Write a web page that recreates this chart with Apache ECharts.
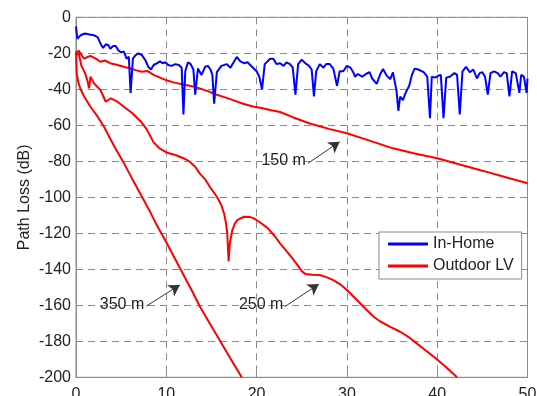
<!DOCTYPE html>
<html>
<head>
<meta charset="utf-8">
<script src="https://cdn.jsdelivr.net/npm/echarts@6/dist/echarts.min.js"></script>
<style>
html,body{margin:0;padding:0;background:#fff;}
#chart{width:537px;height:396px;}
</style>
</head>
<body>
<div id="chart"></div>
<script>
// ---- data ----
const xTicks = [0, 10, 20, 30, 40, 50];
const yTicks = [0, -20, -40, -60, -80, -100, -120, -140, -160, -180, -200];

const inHome = [
[0,-5],[0.15,-12],[0.5,-10],[1.0,-9],[1.5,-9.5],[2.0,-10],[2.4,-11],[2.7,-14.5],[3.0,-17],[3.3,-15],[3.6,-15.5],[3.8,-17.5],[4.1,-16],[4.4,-16],[4.7,-18.5],[5.0,-19.5],[5.3,-19],[5.6,-23],[5.85,-22],[6.05,-42],[6.3,-23],[6.6,-21],[6.9,-20],[7.3,-21],[7.7,-24],[8.0,-27.5],[8.3,-29],[8.6,-26.5],[9.0,-25.5],[9.3,-24.5],[9.6,-25.5],[9.9,-25],[10.2,-26.5],[10.6,-27],[11.0,-26],[11.4,-26.5],[11.7,-28],[11.9,-54],[12.1,-30],[12.4,-25],[12.7,-26],[13.0,-29],[13.2,-43],[13.5,-28.5],[13.9,-32],[14.3,-27.5],[14.6,-27],[14.9,-29],[15.1,-32],[15.3,-48],[15.6,-30.5],[16.1,-27],[16.7,-26],[17.1,-28],[17.8,-22],[18.2,-24.5],[18.6,-25.5],[19.0,-25],[19.6,-28],[20.0,-30],[20.3,-33],[20.6,-40],[20.9,-26],[21.5,-23],[21.85,-23],[22.2,-26],[22.6,-25.5],[23.0,-27],[23.3,-25],[23.7,-26],[24.0,-28],[24.3,-43],[24.6,-26],[25.0,-23.5],[25.4,-25.5],[25.8,-27],[26.1,-29],[26.35,-44],[26.6,-30],[27.0,-26],[27.4,-28],[27.7,-26],[28.1,-26],[28.5,-28.5],[28.9,-38],[29.2,-30],[29.6,-30],[30.0,-27],[30.4,-28],[30.7,-30.5],[30.9,-33],[31.2,-31.5],[31.7,-33],[32.1,-31.5],[32.5,-30.5],[32.8,-34],[33.3,-37],[33.7,-31.5],[34.0,-28.7],[34.4,-32.4],[34.8,-34.3],[35.1,-30.6],[35.5,-41],[35.7,-52],[35.9,-44],[36.2,-46],[36.5,-42],[36.9,-38],[37.2,-32],[37.5,-28.5],[37.9,-29],[38.1,-29],[38.5,-30.5],[38.9,-33],[39.2,-56],[39.4,-33],[39.8,-33.5],[40.1,-32.5],[40.4,-32],[40.7,-56],[41.0,-33.5],[41.4,-33],[41.9,-31],[42.2,-32],[42.5,-54],[42.8,-30],[43.2,-27.5],[43.6,-30.5],[44.0,-29],[44.4,-34],[44.7,-31],[45.0,-30.5],[45.3,-33],[45.6,-43],[45.9,-31],[46.3,-30],[46.7,-31],[47.0,-33],[47.4,-30.5],[47.7,-31],[48.0,-44],[48.3,-30],[48.7,-31],[49.1,-42],[49.3,-32],[49.6,-33],[49.9,-42],[50,-34]
];

const outdoor150 = [
[0,-20],[0.3,-18.5],[0.6,-21],[0.9,-23],[1.3,-22],[1.6,-21.5],[2.2,-23],[2.7,-24.7],[3.2,-24],[3.8,-25.5],[4.6,-26.5],[5.3,-27.5],[6.0,-28.4],[6.7,-29.5],[7.3,-30.2],[7.9,-29.8],[8.6,-32],[9.3,-33.5],[9.9,-34.8],[10.9,-36.3],[12.0,-37.5],[13.0,-38.5],[13.7,-39.5],[14.6,-41],[15.6,-43],[16.5,-44.5],[17.4,-46],[18.5,-48],[19.6,-49.6],[20.4,-50.3],[21.5,-51.5],[22.6,-52.6],[24.0,-55.5],[25.9,-59],[28.0,-62],[30.0,-64.4],[32.5,-68.5],[35.1,-72.8],[37.5,-75.7],[40.0,-78.3],[42.5,-81.8],[45.0,-85.2],[47.5,-88.7],[50,-92.2]
];

const outdoor250 = [
[0,-21],[0.3,-20],[0.6,-27],[1.0,-31],[1.25,-35],[1.45,-39.5],[1.6,-33],[2.0,-36.7],[2.7,-40.4],[3.3,-46.9],[3.85,-45],[4.6,-46.9],[5.3,-49.7],[6.25,-53.3],[7.2,-58],[7.8,-62],[8.6,-69.5],[9.3,-73],[10.1,-75.3],[11.0,-76.5],[11.9,-78.3],[12.6,-80.2],[13.2,-83],[13.7,-86.7],[14.3,-90],[14.8,-94],[15.3,-97.5],[15.7,-100.5],[16.1,-104.5],[16.4,-109],[16.6,-114],[16.75,-120],[16.9,-135.5],[17.05,-125],[17.3,-118.5],[17.6,-114.5],[17.9,-112.5],[18.6,-110.8],[19.3,-111],[19.7,-111.7],[20.4,-114],[21.2,-117],[22.0,-121.5],[22.6,-125.6],[23.5,-131],[24.4,-136.7],[25.0,-141],[25.4,-142.6],[26.2,-143],[27.0,-143.2],[27.8,-144.5],[28.5,-146],[29.3,-148.5],[30.0,-151.5],[31.0,-156.5],[32.2,-162.6],[33.0,-166.5],[33.7,-169],[34.8,-172],[35.9,-174.7],[36.8,-177.5],[37.7,-181],[38.7,-185],[39.6,-188.5],[40.9,-194],[42.2,-200]
];

const outdoor350 = [
[0,-19],[0.08,-31],[0.25,-36],[0.5,-40],[0.9,-44],[1.6,-49.7],[2.4,-55.2],[3.1,-60.8],[3.85,-68],[4.5,-74],[5.3,-81],[6.2,-89.5],[7.2,-98.7],[8.1,-107],[9.0,-116],[10.0,-125],[10.85,-133],[12.0,-144],[12.9,-152.5],[13.7,-160.5],[14.8,-170],[15.9,-179.3],[17.1,-189.5],[18.35,-200]
];

const seriesNames = ['In-Home', 'Outdoor LV'];
const annoText = ['150 m', '350 m', '250 m'];
const annoTextPos = [[23.0,-79.8],[5.1,-159.8],[20.5,-159.8]];
const arrowFrom = [[25.7,-81.1],[7.8,-160.4],[23.1,-160.8]];
const arrowTo = [[29.2,-69.1],[11.5,-148.7],[26.9,-148.2]];

// ---- chart ----
const FONT = 'Liberation Sans, Arial, Helvetica, sans-serif';
const chart = echarts.init(document.getElementById('chart'), null, {renderer: 'canvas'});

const gridLine = {show: true, lineStyle: {color: '#8a8a8a', type: [7, 5], width: 1}};
const redStyle = {color: '#ff0000', width: 2};

const option = {
  animation: false,
  backgroundColor: '#ffffff',
  textStyle: {fontFamily: FONT},
  grid: {left: 76, right: 9.5, top: 17.3, bottom: 18.7, containLabel: false, outerBoundsMode: 'none',
         show: true, borderColor: '#8a8a8a', borderWidth: 1, backgroundColor: 'transparent'},
  legend: {
    data: seriesNames,
    left: 379, top: 232,
    orient: 'vertical',
    itemWidth: 40, itemHeight: 3, itemGap: 6,
    padding: [4, 8, 5, 9],
    backgroundColor: '#ffffff',
    borderColor: '#8a8a8a', borderWidth: 1, borderRadius: 0,
    icon: 'rect',
    textStyle: {fontSize: 16, color: '#222', fontFamily: FONT}
  },
  xAxis: {
    type: 'value', min: xTicks[0], max: xTicks[xTicks.length - 1], interval: 10,
    axisLine: {show: true, onZero: false, lineStyle: {color: '#8a8a8a'}},
    axisTick: {show: true, inside: true, length: 5, lineStyle: {color: '#8a8a8a'}},
    axisLabel: {fontSize: 16, color: '#222', margin: 9, fontFamily: FONT},
    splitLine: gridLine
  },
  yAxis: {
    type: 'value', min: yTicks[yTicks.length - 1], max: yTicks[0], interval: 20,
    name: 'Path Loss (dB)', nameLocation: 'middle', nameGap: 43, nameMoveOverlap: false,
    nameTextStyle: {fontSize: 16, color: '#222', fontFamily: FONT},
    axisLine: {show: true, onZero: false, lineStyle: {color: '#8a8a8a'}},
    axisTick: {show: true, inside: true, length: 5, lineStyle: {color: '#8a8a8a'}},
    axisLabel: {fontSize: 16, color: '#222', margin: 5, fontFamily: FONT},
    splitLine: gridLine
  },
  series: [
    {name: seriesNames[0], type: 'line', data: inHome, showSymbol: false, symbol: 'none',
     lineStyle: {color: '#0000ff', width: 2}, itemStyle: {color: '#0000ff'}, z: 3},
    {name: seriesNames[1], type: 'line', data: outdoor150, showSymbol: false, symbol: 'none',
     lineStyle: redStyle, itemStyle: {color: '#ff0000'}, z: 2,
     markLine: {
       silent: true, symbol: ['none', 'arrow'], symbolSize: [10, 11],
       lineStyle: {color: '#333', width: 1, type: 'solid'},
       itemStyle: {color: '#000'},
       label: {show: false},
       data: arrowFrom.map((p, i) => [{coord: p}, {coord: arrowTo[i]}])
     },
     markPoint: {
       silent: true, symbol: 'circle', symbolSize: 0,
       label: {show: true, position: 'inside', formatter: p => p.name, fontSize: 16, color: '#222', fontFamily: FONT},
       data: annoText.map((t, i) => ({name: t, coord: annoTextPos[i]}))
     }
    },
    {name: seriesNames[1], type: 'line', data: outdoor250, showSymbol: false, symbol: 'none',
     lineStyle: redStyle, itemStyle: {color: '#ff0000'}, z: 2},
    {name: seriesNames[1], type: 'line', data: outdoor350, showSymbol: false, symbol: 'none',
     lineStyle: redStyle, itemStyle: {color: '#ff0000'}, z: 2}
  ]
};
chart.setOption(option);
</script>
</body>
</html>
